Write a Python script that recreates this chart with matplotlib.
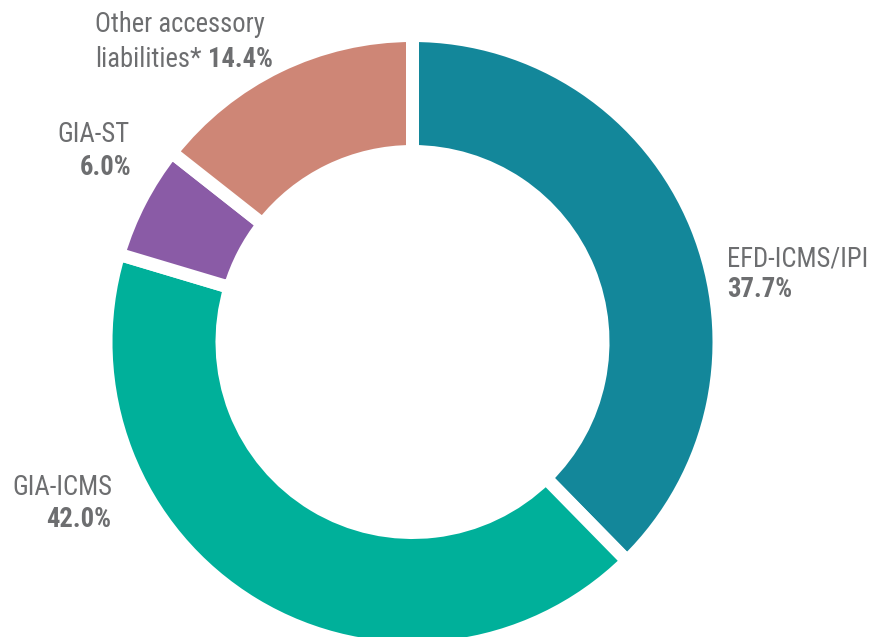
import matplotlib
matplotlib.use("Agg")
import matplotlib.pyplot as plt

# Composition of liabilities (share of total, %)
categories = ["EFD-ICMS/IPI", "GIA-ICMS", "GIA-ST", "Other accessory\nliabilities*"]
shares = [37.7, 42.0, 6.0, 14.4]
share_labels = ["37.7%", "42.0%", "6.0%", "14.4%"]
colors = ["#13879A", "#00B09A", "#8A5BA6", "#CE8676"]

TEXT = "#6D6E70"
FAMILY = ["Roboto Condensed", "Liberation Sans Narrow", "Archivo Narrow", "DejaVu Sans"]
FS = 19.2

W, H = 871, 637
fig = plt.figure(figsize=(W / 100, H / 100), dpi=100)
ax = fig.add_axes([0, 0, 1, 1])
ax.set_xlim(0, W)
ax.set_ylim(0, H)
ax.set_aspect("equal")
ax.axis("off")

# donut geometry in pixel units
cx, cy = 412.5, H - 342
gap = 13          # white gap between wedges, px
r_out, r_in = 300, 197
lw_pt = gap * 72 / 100

ax.pie(shares, colors=colors, startangle=90, counterclock=False,
       center=(cx, cy), radius=r_out + gap / 2,
       wedgeprops=dict(width=(r_out - r_in) + gap, edgecolor="white",
                       linewidth=lw_pt, joinstyle="miter"))
ax.set_xlim(0, W)
ax.set_ylim(0, H)


def txt(x, y, s, ha, bold=False):
    return ax.text(x, H - y, s, ha=ha, va="baseline", color=TEXT,
                   fontsize=FS, family=FAMILY,
                   fontweight="bold" if bold else "normal")


# EFD-ICMS/IPI (right side)
txt(727, 267, categories[0], "left")
txt(727, 297, share_labels[0], "left", bold=True)

# GIA-ICMS (lower left)
txt(112, 495, categories[1], "right")
txt(111, 527, share_labels[1], "right", bold=True)

# GIA-ST (upper left)
txt(129, 142, categories[2], "right")
txt(131, 175, share_labels[2], "right", bold=True)

# Other accessory liabilities (top)
line1, line2 = categories[3].split("\n")
txt(265, 32, line1, "right")
pct = txt(273, 67, share_labels[3], "right", bold=True)
fig.canvas.draw()
bb = pct.get_window_extent(renderer=fig.canvas.get_renderer())
txt(bb.x0 - 7, 67, line2, "right")

fig.savefig("out.png", dpi=100)
